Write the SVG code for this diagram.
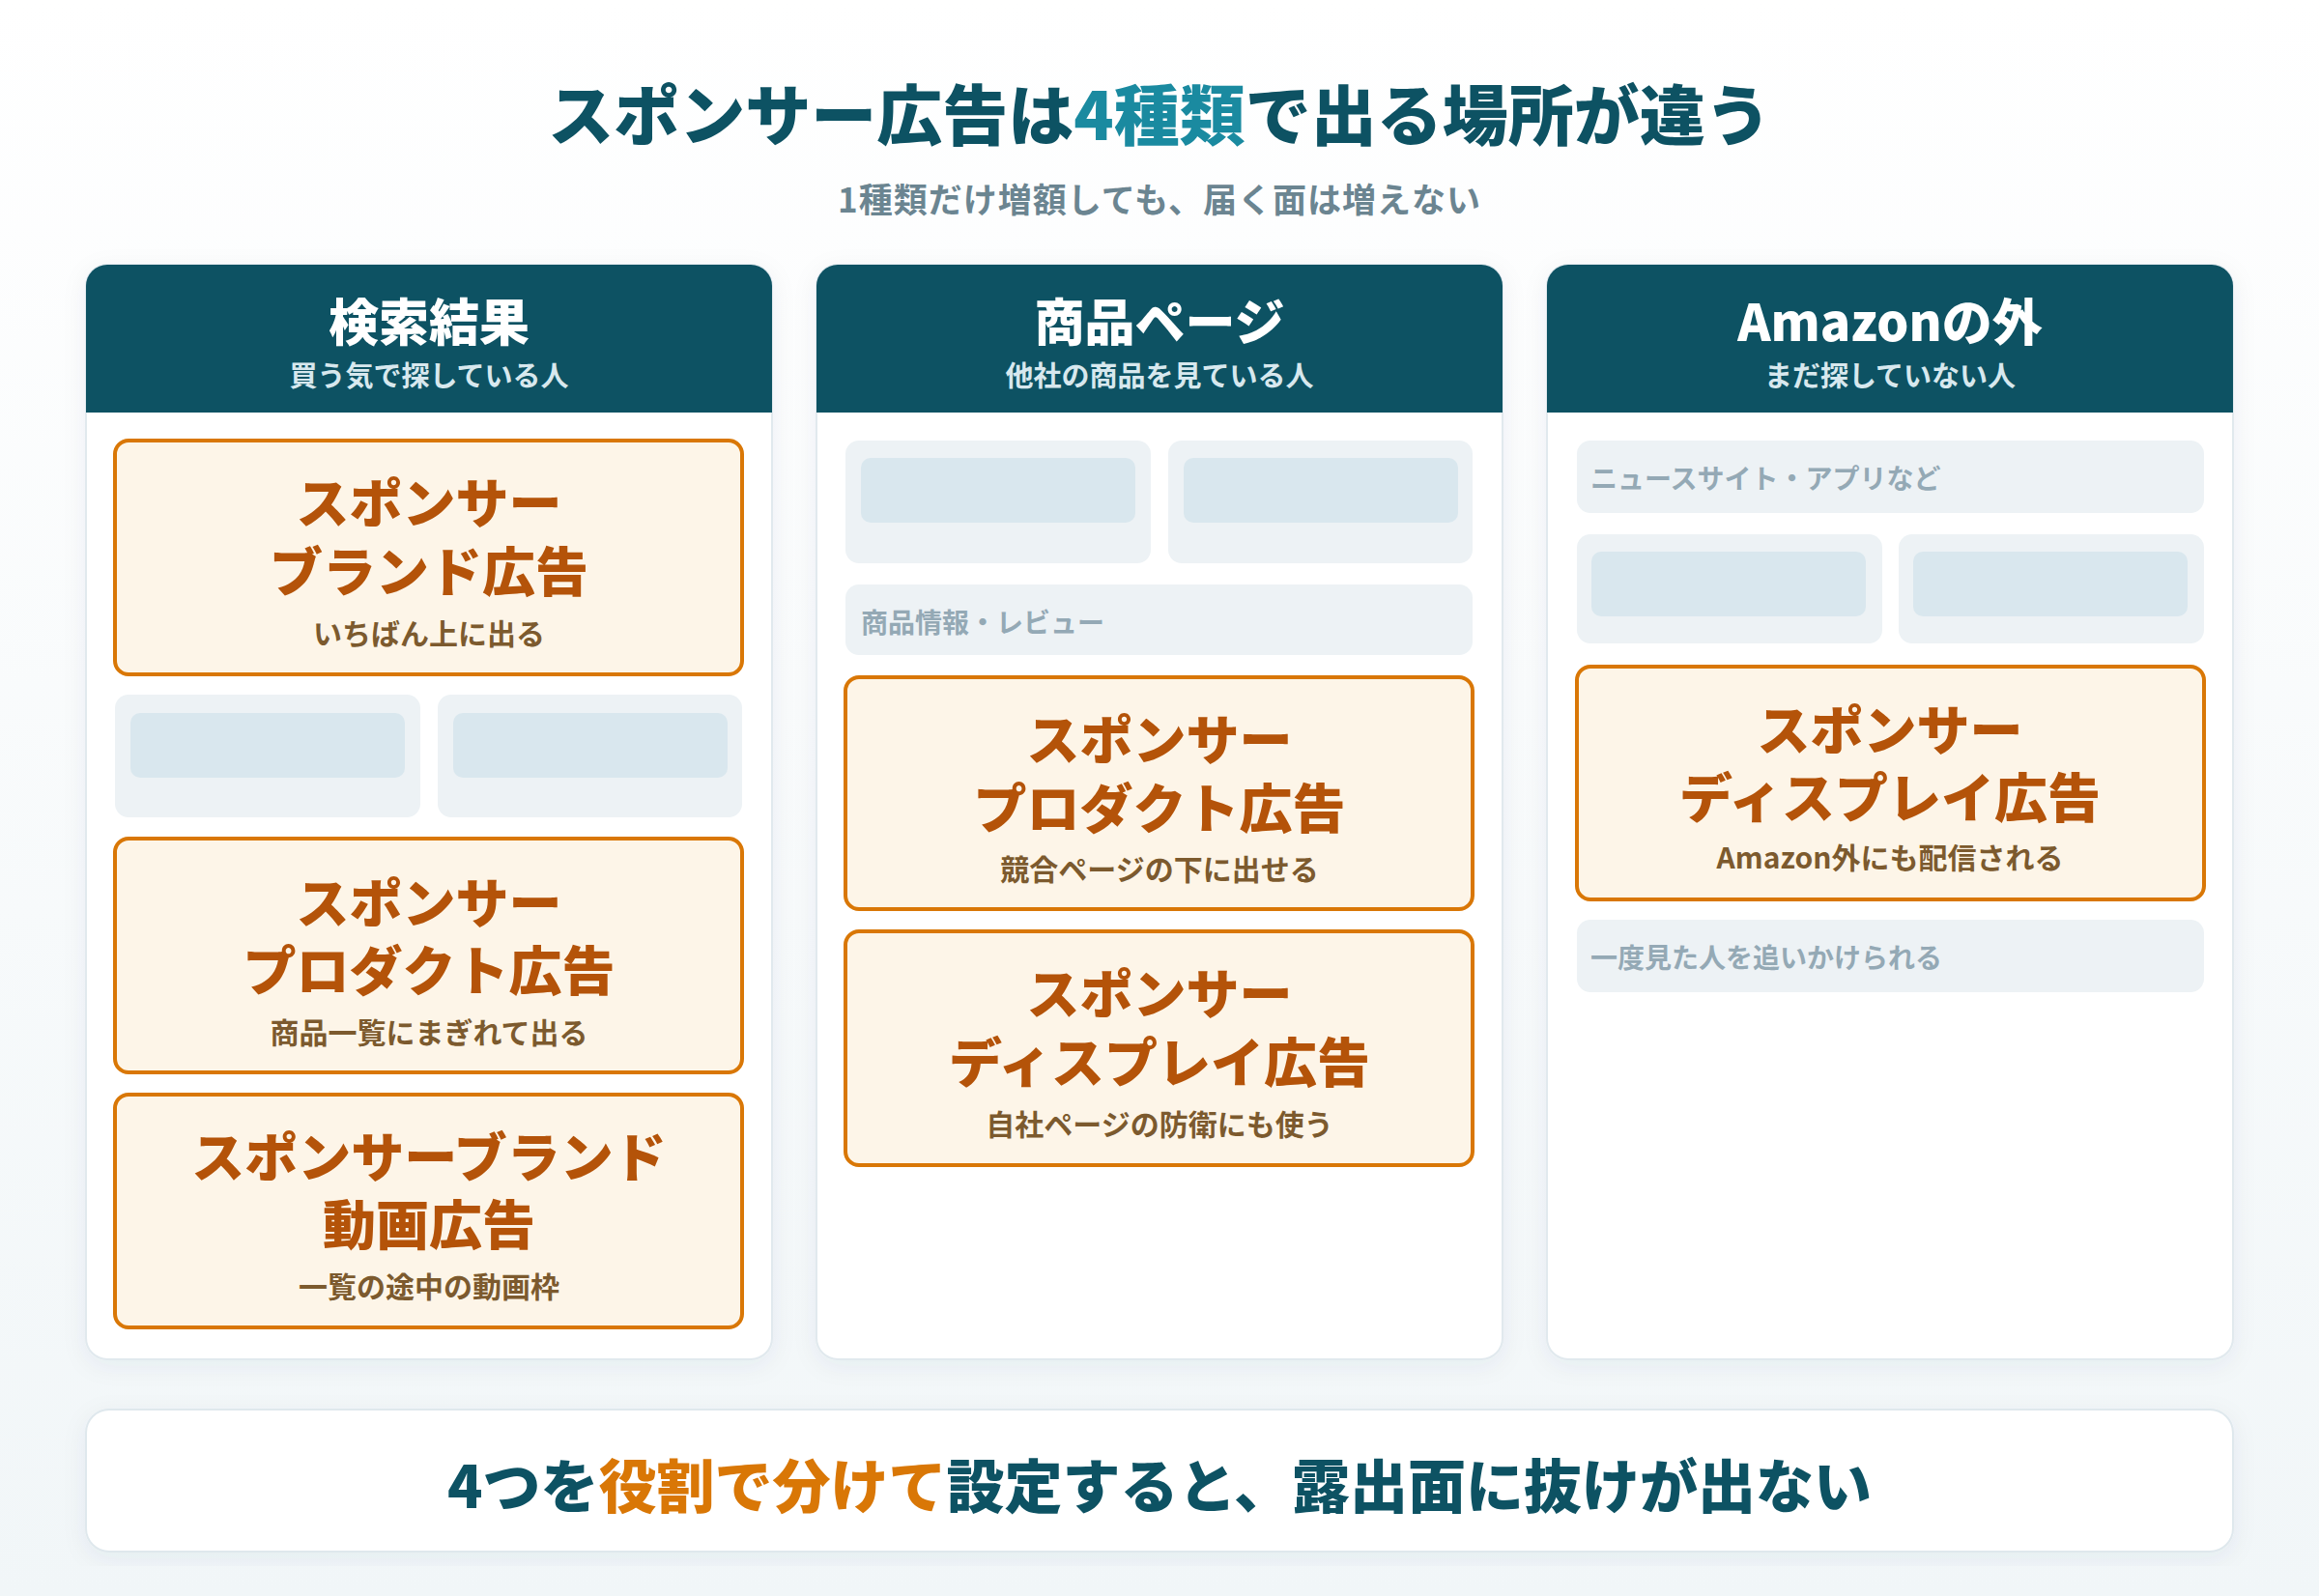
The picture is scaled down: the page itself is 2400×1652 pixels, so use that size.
<svg xmlns="http://www.w3.org/2000/svg" width="2400" height="1652" viewBox="0 0 2400 1652">
<defs>
<linearGradient id="bg" x1="0" y1="0" x2="0" y2="1"><stop offset="0" stop-color="#ffffff"/><stop offset="1" stop-color="#f1f6f8"/></linearGradient>
<filter id="sh" x="-10%" y="-10%" width="120%" height="120%"><feDropShadow dx="0" dy="6" stdDeviation="12" flood-color="#0d5263" flood-opacity="0.06"/></filter>
</defs>
<style>
text{font-family:"Noto Sans CJK JP","Noto Sans",sans-serif;dominant-baseline:central;text-anchor:middle}
.card{fill:#fff;stroke:#e1e9ee;stroke-width:2}
.hd{fill:#0d5263}
.ht{fill:#fff;font-size:52px;font-weight:900}
.hs{fill:#d7e8ee;font-size:29px;font-weight:700}
.ad{fill:#fdf5e8;stroke:#d97706;stroke-width:4}
.at{fill:#b45309;font-size:55px;font-weight:900}
.as{fill:#7c5a2e;font-size:30px;font-weight:700}
.ph{fill:#edf2f5}
.pi{fill:#d9e7ee}
.pt{fill:#94a9b5;font-size:28px;font-weight:700;text-anchor:start}
</style>
<rect width="2400" height="1652" fill="url(#bg)"/>
<text x="1200" y="115" font-size="68" font-weight="900" fill="#0d5263">スポンサー広告は<tspan fill="#1a8aa0">4種類</tspan>で出る場所が違う</text>
<text x="1200" y="204" font-size="35" font-weight="700" letter-spacing="1" fill="#6b8591">1種類だけ増額しても、届く面は増えない</text>

<g id="col-search">
<rect class="card" x="89" y="274" width="710" height="1133" rx="22" filter="url(#sh)"/>
<path class="hd" d="M89 427V296a22 22 0 0 1 22-22h666a22 22 0 0 1 22 22v131z"/>
<text class="ht" x="444" y="330">検索結果</text>
<text class="hs" x="444" y="387">買う気で探している人</text>
</g>
<g id="ad-brand"><rect class="ad" x="119" y="456" width="649" height="242" rx="14"/>
<text class="at" x="444" y="517">スポンサー</text><text class="at" x="444" y="588">ブランド広告</text><text class="as" x="444" y="654">いちばん上に出る</text></g>
<g id="ph-search"><rect class="ph" x="119" y="719" width="316" height="127" rx="14"/><rect class="pi" x="135" y="738" width="284" height="67" rx="10"/>
<rect class="ph" x="453" y="719" width="315" height="127" rx="14"/><rect class="pi" x="469" y="738" width="284" height="67" rx="10"/></g>
<g id="ad-product1"><rect class="ad" x="119" y="868" width="649" height="242" rx="14"/>
<text class="at" x="444" y="931">スポンサー</text><text class="at" x="444" y="1001">プロダクト広告</text><text class="as" x="444" y="1067">商品一覧にまぎれて出る</text></g>
<g id="ad-video"><rect class="ad" x="119" y="1133" width="649" height="241" rx="14"/>
<text class="at" x="444" y="1194">スポンサーブランド</text><text class="at" x="444" y="1264">動画広告</text><text class="as" x="444" y="1330">一覧の途中の動画枠</text></g>

<g id="col-product">
<rect class="card" x="845" y="274" width="710" height="1133" rx="22" filter="url(#sh)"/>
<path class="hd" d="M845 427V296a22 22 0 0 1 22-22h666a22 22 0 0 1 22 22v131z"/>
<text class="ht" x="1200" y="330">商品ページ</text>
<text class="hs" x="1200" y="387">他社の商品を見ている人</text>
</g>
<g id="ph-product"><rect class="ph" x="875" y="456" width="316" height="127" rx="14"/><rect class="pi" x="891" y="474" width="284" height="67" rx="10"/>
<rect class="ph" x="1209" y="456" width="315" height="127" rx="14"/><rect class="pi" x="1225" y="474" width="284" height="67" rx="10"/>
<rect class="ph" x="875" y="605" width="649" height="73" rx="14"/><text class="pt" x="891" y="643">商品情報・レビュー</text></g>
<g id="ad-product2"><rect class="ad" x="875" y="701" width="649" height="240" rx="14"/>
<text class="at" x="1200" y="762">スポンサー</text><text class="at" x="1200" y="833">プロダクト広告</text><text class="as" x="1200" y="898">競合ページの下に出せる</text></g>
<g id="ad-display1"><rect class="ad" x="875" y="964" width="649" height="242" rx="14"/>
<text class="at" x="1200" y="1025">スポンサー</text><text class="at" x="1200" y="1096">ディスプレイ広告</text><text class="as" x="1200" y="1162">自社ページの防衛にも使う</text></g>

<g id="col-outside">
<rect class="card" x="1601" y="274" width="710" height="1133" rx="22" filter="url(#sh)"/>
<path class="hd" d="M1601 427V296a22 22 0 0 1 22-22h666a22 22 0 0 1 22 22v131z"/>
<text class="ht" x="1956" y="330">Amazonの外</text>
<text class="hs" x="1956" y="387">まだ探していない人</text>
</g>
<g id="ph-outside"><rect class="ph" x="1632" y="456" width="649" height="75" rx="14"/><text class="pt" x="1646" y="494">ニュースサイト・アプリなど</text>
<rect class="ph" x="1632" y="553" width="316" height="113" rx="14"/><rect class="pi" x="1647" y="571" width="284" height="67" rx="10"/>
<rect class="ph" x="1965" y="553" width="316" height="113" rx="14"/><rect class="pi" x="1980" y="571" width="284" height="67" rx="10"/></g>
<g id="ad-display2"><rect class="ad" x="1632" y="690" width="649" height="241" rx="14"/>
<text class="at" x="1956" y="752">スポンサー</text><text class="at" x="1956" y="822">ディスプレイ広告</text><text class="as" x="1956" y="886">Amazon外にも配信される</text></g>
<g id="ph-retarget"><rect class="ph" x="1632" y="952" width="649" height="75" rx="14"/><text class="pt" x="1646" y="990">一度見た人を追いかけられる</text></g>

<g id="summary"><rect x="89" y="1459" width="2222" height="147" rx="24" fill="#fff" stroke="#dfe8ed" stroke-width="2" filter="url(#sh)"/>
<text x="1200" y="1534" font-size="60" font-weight="900" fill="#0d5263">4つを<tspan fill="#d97706">役割で分けて</tspan>設定すると、露出面に抜けが出ない</text></g>
<g id="connectors"/>
</svg>
